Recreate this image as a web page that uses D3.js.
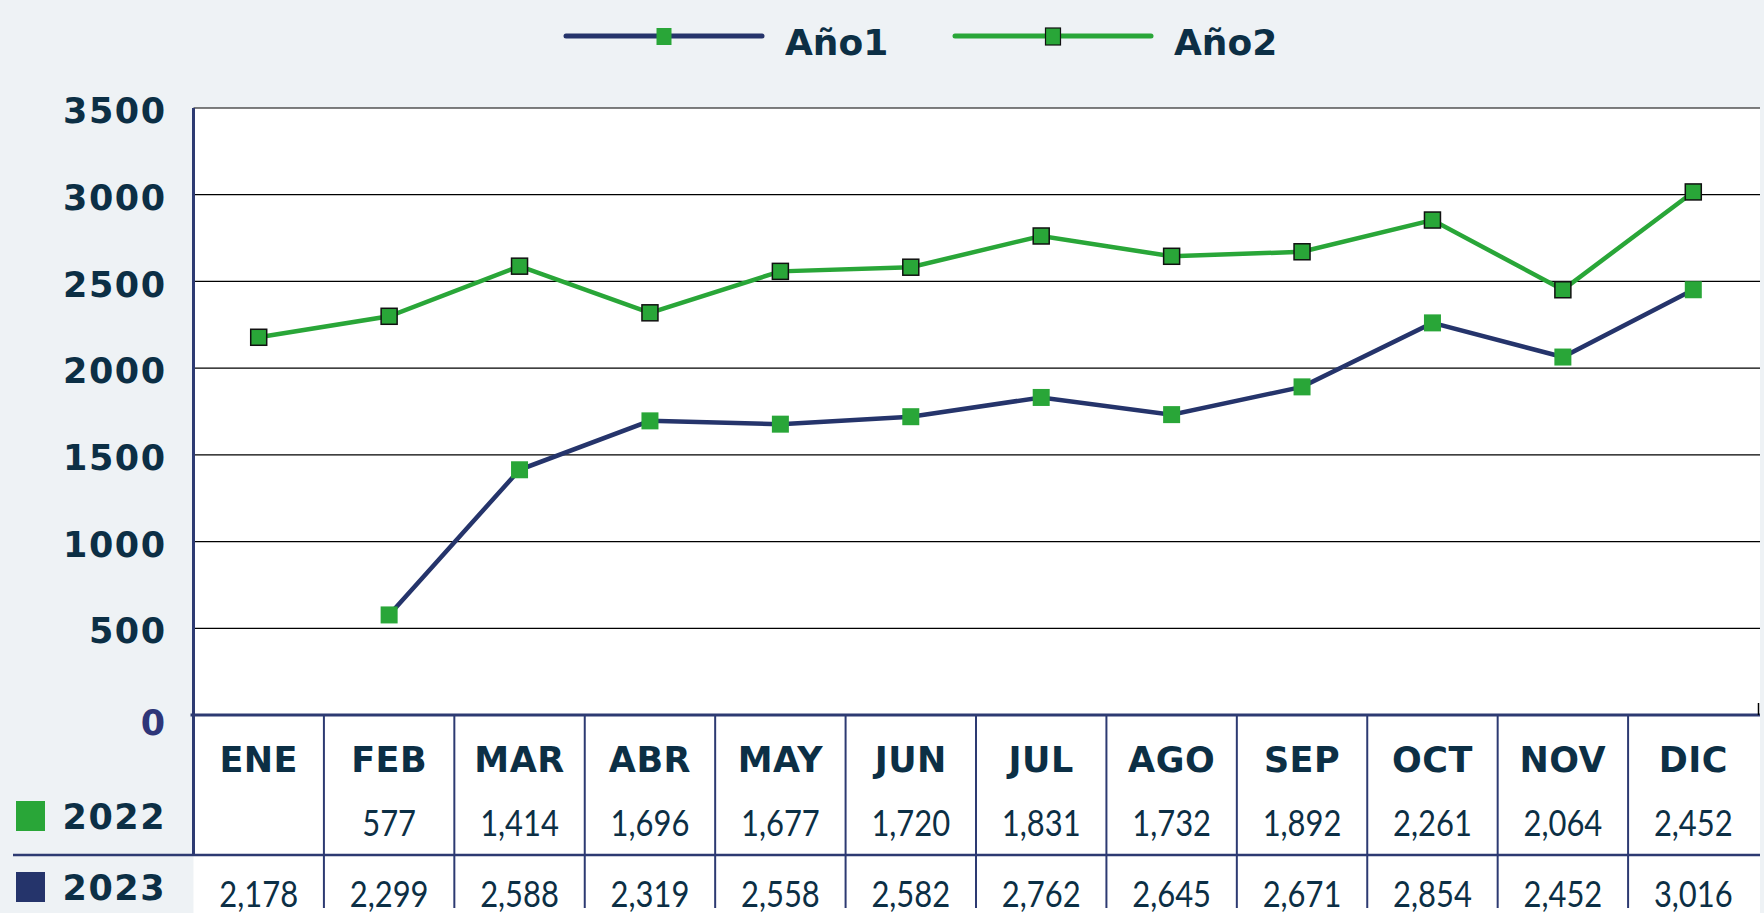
<!DOCTYPE html>
<html><head><meta charset="utf-8">
<script src="https://cdn.jsdelivr.net/npm/d3@7"></script>
<style>
html,body{margin:0;padding:0;background:#eef2f5;}
svg{display:block;}
</style></head>
<body>
<svg id="chart" width="1764" height="913"></svg>
<script>
const months = ["ENE","FEB","MAR","ABR","MAY","JUN","JUL","AGO","SEP","OCT","NOV","DIC"];
const values2022 = [null,577,1414,1696,1677,1720,1831,1732,1892,2261,2064,2452];
const values2023 = [2178,2299,2588,2319,2558,2582,2762,2645,2671,2854,2452,3016];
const yTicks = [0,500,1000,1500,2000,2500,3000,3500];
const seriesNames = ["Año1","Año2"];
const rowLabels = ["2022","2023"];

const GREEN = "#29a638", NAVY = "#25346b", TEXT = "#0c2f45", AXIS = "#2d3a72";
const W = 1764, H = 913;
const plotL = 193.5, plotR = 1758.5, plotT = 108, plotB = 715, bgR = 1760;

const svg = d3.select("#chart");
svg.append("rect").attr("width", W).attr("height", H).attr("fill", "#eef2f5");

const x = d3.scaleBand().domain(months).range([plotL, plotR]);
const y = d3.scaleLinear().domain([0, 3500]).range([plotB, plotT]);
const cx = m => x(m) + x.bandwidth() / 2;

// white areas
svg.append("rect").attr("x", plotL).attr("y", plotT).attr("width", bgR - plotL).attr("height", H - plotT).attr("fill", "#fff");

// gridlines
svg.append("g").selectAll("line").data(yTicks.filter(t => t > 0)).join("line")
  .attr("x1", plotL).attr("x2", bgR).attr("y1", d => y(d)).attr("y2", d => y(d))
  .attr("stroke", "#000").attr("stroke-width", 1.2);

// y axis labels
const yAxis = d3.axisLeft(y).tickValues(yTicks).tickFormat(d3.format("d")).tickSize(0).tickPadding(27);
const gy = svg.append("g").attr("transform", `translate(${plotL},0)`).call(yAxis);
gy.select(".domain").remove();
gy.selectAll("text")
  .attr("font-family", "DejaVu Sans").attr("font-size", 35)
  .attr("letter-spacing", 1.5).attr("dy", d => d === 0 ? "0.55em" : "0.42em")
  .attr("fill", d => d === 0 ? "#2e3679" : TEXT)
  .attr("font-weight", "bold");

// table grid
const tbl = svg.append("g");
tbl.selectAll("line.v").data(months.slice(1)).join("line").attr("class", "v")
  .attr("x1", d => x(d)).attr("x2", d => x(d)).attr("y1", plotB).attr("y2", 908)
  .attr("stroke", AXIS).attr("stroke-width", 2);
tbl.append("line").attr("x1", 13).attr("x2", bgR).attr("y1", 855).attr("y2", 855)
  .attr("stroke", AXIS).attr("stroke-width", 2.5);
// left axis line and bottom axis
svg.append("line").attr("x1", plotL).attr("x2", plotL).attr("y1", plotT).attr("y2", 855)
  .attr("stroke", AXIS).attr("stroke-width", 3);
svg.append("line").attr("x1", plotL - 3).attr("x2", bgR).attr("y1", plotB).attr("y2", plotB)
  .attr("stroke", AXIS).attr("stroke-width", 3);
svg.append("line").attr("x1", plotR).attr("x2", plotR).attr("y1", plotB - 12).attr("y2", plotB)
  .attr("stroke", "#000").attr("stroke-width", 1.5);

// month headers
tbl.selectAll("text.m").data(months).join("text").attr("class", "m")
  .attr("x", d => cx(d)).attr("y", 759).attr("dy", "0.36em").attr("text-anchor", "middle")
  .attr("font-family", "DejaVu Sans").attr("font-weight", "bold").attr("font-size", 35)
  .attr("letter-spacing", 0.5).attr("fill", TEXT).text(d => d);

const fmt = d3.format(",");
function valueRow(vals, yc) {
  tbl.append("g").selectAll("g").data(months.map((m, i) => ({m, v: vals[i]})).filter(d => d.v != null))
    .join("g").attr("transform", d => `translate(${cx(d.m)},${yc}) scale(0.86,1)`)
    .append("text").attr("text-anchor", "middle").attr("dy", "0.36em")
    .attr("font-family", "Lato").attr("font-weight", 400).attr("font-size", 36)
    .attr("fill", TEXT).text(d => fmt(d.v));
}
valueRow(values2022, 823);
valueRow(values2023, 894);

// row labels with swatches
const rows = [{label: rowLabels[0], color: GREEN, yc: 816}, {label: rowLabels[1], color: NAVY, yc: 887}];
const rl = svg.append("g").selectAll("g").data(rows).join("g");
rl.append("rect").attr("x", 16).attr("y", d => d.yc - 15).attr("width", 29).attr("height", 30).attr("fill", d => d.color);
rl.append("text").attr("x", 166).attr("y", d => d.yc).attr("dy", "0.36em").attr("text-anchor", "end")
  .attr("font-family", "DejaVu Sans").attr("font-weight", "bold").attr("font-size", 35)
  .attr("letter-spacing", 1.5).attr("fill", TEXT).text(d => d.label);

// lines
const line = d3.line().defined(d => d.v != null).x(d => cx(d.m)).y(d => y(d.v));
const s1 = months.map((m, i) => ({m, v: values2022[i]}));
const s2 = months.map((m, i) => ({m, v: values2023[i]}));
svg.append("path").datum(s1).attr("d", line).attr("fill", "none").attr("stroke", NAVY).attr("stroke-width", 4.5);
svg.append("path").datum(s2).attr("d", line).attr("fill", "none").attr("stroke", GREEN).attr("stroke-width", 4.5);
const ms = 17;
svg.append("g").selectAll("rect").data(s1.filter(d => d.v != null)).join("rect")
  .attr("x", d => cx(d.m) - ms / 2).attr("y", d => y(d.v) - ms / 2).attr("width", ms).attr("height", ms)
  .attr("fill", GREEN);
svg.append("g").selectAll("rect").data(s2).join("rect")
  .attr("x", d => cx(d.m) - ms / 2 + 0.5).attr("y", d => y(d.v) - ms / 2 + 0.5).attr("width", ms - 1).attr("height", ms - 1)
  .attr("fill", GREEN).attr("stroke", "#111").attr("stroke-width", 1.5);

// legend
const legend = [
  {name: seriesNames[0], color: NAVY, x0: 566, border: false},
  {name: seriesNames[1], color: GREEN, x0: 955, border: true}
];
const lg = svg.append("g").selectAll("g").data(legend).join("g");
lg.append("line").attr("x1", d => d.x0).attr("x2", d => d.x0 + 196).attr("y1", 36).attr("y2", 36)
  .attr("stroke", d => d.color).attr("stroke-width", 5).attr("stroke-linecap", "round");
lg.append("rect").attr("x", d => d.x0 + 98 - 7.5).attr("y", 28).attr("width", 15).attr("height", 17)
  .attr("fill", GREEN).attr("stroke", d => d.border ? "#111" : "none").attr("stroke-width", 1.2);
lg.append("text").attr("x", d => d.x0 + 219).attr("y", 42).attr("dy", "0.36em")
  .attr("font-family", "DejaVu Sans").attr("font-weight", "bold").attr("font-size", 36)
  .attr("fill", TEXT).text(d => d.name);
</script>
</body></html>
